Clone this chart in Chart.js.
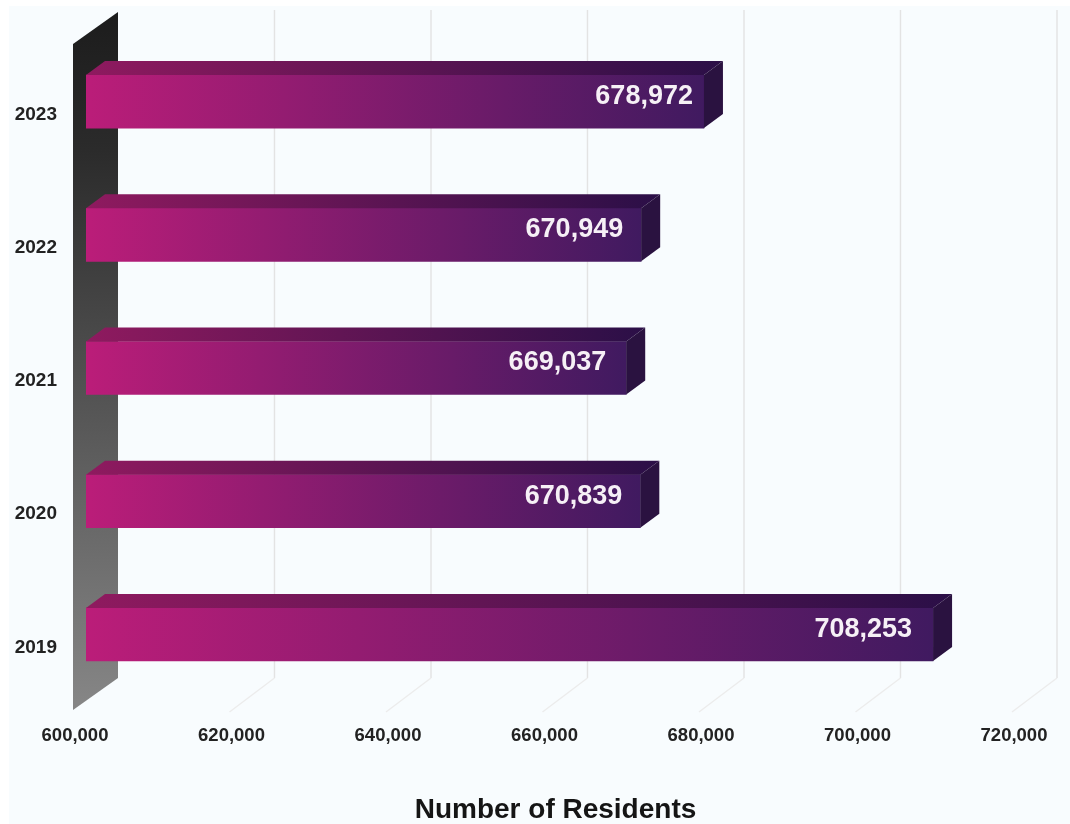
<!DOCTYPE html>
<html>
<head>
<meta charset="utf-8">
<script src="https://cdn.jsdelivr.net/npm/chart.js@4"></script>
<style>
  html, body { margin: 0; padding: 0; background: #ffffff; }
  #frame { position: absolute; left: 9px; top: 6px; width: 1061px; height: 818px; background: #f8fcfe; }
  canvas { position: absolute; left: 0; top: 0; }
</style>
</head>
<body>
<div id="frame"></div>
<canvas id="chart" width="1070" height="824"></canvas>
<script>
const categories = ['2023', '2022', '2021', '2020', '2019'];
const residents = [678972, 670949, 669037, 670839, 708253];
const axisMin = 600000;
const axisMax = 720000;
const axisStep = 20000;
const axisTitle = 'Number of Residents';

const FONT = '"Liberation Sans", Arial, sans-serif';
const fmt = v => Number(v).toLocaleString('en-US');

// Simulated depth: the wall and grid recede behind the front face of the bars.
const BAR_DX = 19, BAR_DY = 14;
const BACK_DX = 32, BACK_DY = 23;
const FRONT_DX = 13, FRONT_DY = 9;

// Gap between each value label and the end of its bar.
const LABEL_INSET = [11, 18, 20, 18, 21];

function poly(ctx, pts, fill) {
  ctx.beginPath();
  pts.forEach((p, i) => i ? ctx.lineTo(p[0], p[1]) : ctx.moveTo(p[0], p[1]));
  ctx.closePath();
  ctx.fillStyle = fill;
  ctx.fill();
}

function hGradient(ctx, x0, x1, from, to) {
  const g = ctx.createLinearGradient(x0, 0, x1, 0);
  g.addColorStop(0, from);
  g.addColorStop(1, to);
  return g;
}

const depthPlugin = {
  id: 'depth',
  beforeDatasetsDraw(chart) {
    const { ctx, chartArea: a, scales: { x } } = chart;
    const backTop = a.top - BACK_DY, backBottom = a.bottom - BACK_DY;
    ctx.save();

    // receding grid lines
    ctx.lineWidth = 1.4;
    for (const t of x.ticks) {
      if (t.value === axisMin) continue;
      const px = x.getPixelForValue(t.value);
      ctx.strokeStyle = '#e3e3e3';
      ctx.beginPath();
      ctx.moveTo(px + BACK_DX, backTop - 2);
      ctx.lineTo(px + BACK_DX, backBottom);
      ctx.stroke();
      ctx.strokeStyle = '#ececec';
      ctx.beginPath();
      ctx.moveTo(px + BACK_DX, backBottom);
      ctx.lineTo(px - FRONT_DX, a.bottom + FRONT_DY + 2);
      ctx.stroke();
    }

    // side wall at the axis origin
    const left = x.getPixelForValue(axisMin);
    const wall = ctx.createLinearGradient(0, backTop, 0, a.bottom);
    wall.addColorStop(0, '#1c1c1c');
    wall.addColorStop(0.2, '#2b2b2b');
    wall.addColorStop(1, '#858585');
    poly(ctx, [
      [left - FRONT_DX, a.top + FRONT_DY],
      [left + BACK_DX, backTop],
      [left + BACK_DX, backBottom],
      [left - FRONT_DX, a.bottom + FRONT_DY]
    ], wall);
    ctx.restore();
  },
  afterDatasetsDraw(chart) {
    const { ctx, scales: { x } } = chart;
    const bars = chart.getDatasetMeta(0).data;
    const start = x.getPixelForValue(axisMin);
    ctx.save();
    bars.forEach((bar, i) => {
      const top = bar.y - bar.height / 2, bottom = bar.y + bar.height / 2;
      // upper face
      poly(ctx, [
        [start, top],
        [start + BAR_DX, top - BAR_DY],
        [bar.x + BAR_DX, top - BAR_DY],
        [bar.x, top]
      ], hGradient(ctx, start, bar.x + BAR_DX, '#8f1a5f', '#2b0f47'));
      // end face
      poly(ctx, [
        [bar.x, top],
        [bar.x + BAR_DX, top - BAR_DY],
        [bar.x + BAR_DX, bottom - BAR_DY],
        [bar.x, bottom]
      ], '#2a1240');
      // value label
      ctx.font = 'bold 27px ' + FONT;
      ctx.fillStyle = '#f6f0f6';
      ctx.textAlign = 'right';
      ctx.textBaseline = 'middle';
      ctx.fillText(fmt(residents[i]), bar.x - LABEL_INSET[i], bar.y - 5);
    });
    ctx.restore();
  }
};

new Chart(document.getElementById('chart'), {
  type: 'bar',
  data: {
    labels: categories,
    datasets: [{
      data: residents,
      base: axisMin,
      barThickness: 53,
      borderWidth: 0,
      backgroundColor(c) {
        const x = c.chart.scales.x;
        const x0 = x.getPixelForValue(axisMin);
        const x1 = x.getPixelForValue(c.parsed ? c.parsed.x : NaN);
        if (!Number.isFinite(x0) || !Number.isFinite(x1)) return '#b81d78';
        return hGradient(c.chart.ctx, x0, x1, '#bb1d79', '#401a60');
      }
    }]
  },
  plugins: [depthPlugin],
  options: {
    indexAxis: 'y',
    responsive: false,
    animation: false,
    layout: { padding: { top: 35, right: 45, left: 0, bottom: 0 } },
    plugins: { legend: { display: false }, tooltip: { enabled: false } },
    scales: {
      x: {
        type: 'linear',
        min: axisMin,
        max: axisMax,
        afterFit(s) { s.height = 123; s.paddingLeft = 0; s.paddingRight = 0; },
        grid: { display: false },
        border: { display: false },
        ticks: {
          stepSize: axisStep,
          maxRotation: 0,
          labelOffset: -11,
          padding: 16,
          color: '#222222',
          font: { family: FONT, weight: 'bold', size: 18.5 },
          callback: v => fmt(v)
        },
        title: {
          display: true,
          text: axisTitle,
          color: '#151515',
          font: { family: FONT, weight: 'bold', size: 28 },
          padding: { top: 0, bottom: -3 }
        }
      },
      y: {
        afterFit(s) { s.width = 86; s.paddingTop = 0; s.paddingBottom = 0; },
        grid: { display: false },
        border: { display: false },
        ticks: {
          labelOffset: 13,
          padding: 21,
          color: '#222222',
          font: { family: FONT, weight: 'bold', size: 19 }
        }
      }
    }
  }
});
</script>
</body>
</html>
